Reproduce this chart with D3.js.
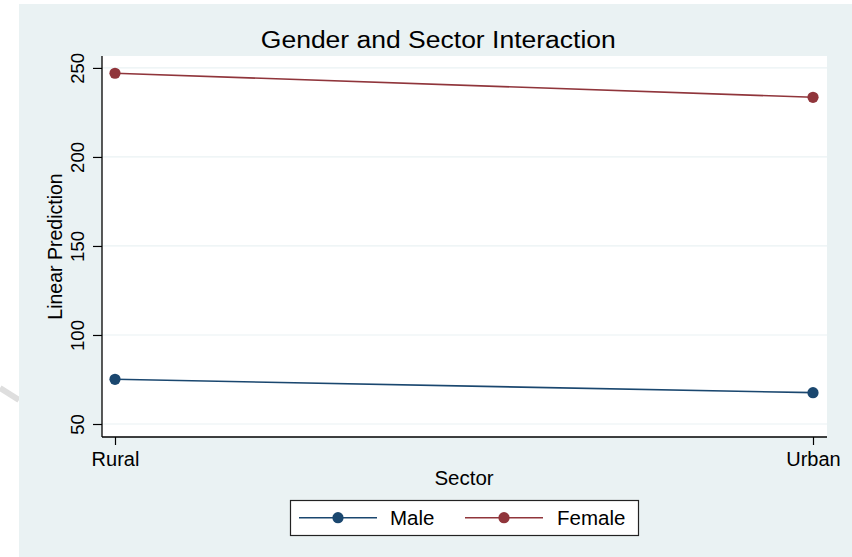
<!DOCTYPE html>
<html>
<head>
<meta charset="utf-8">
<script src="https://cdn.jsdelivr.net/npm/d3@7"></script>
<style>
  html, body { margin: 0; padding: 0; background: #ffffff; }
  svg { display: block; font-family: "Liberation Sans", Arial, Helvetica, sans-serif; }
</style>
</head>
<body>
<svg id="chart" width="852" height="557"></svg>
<script>
// Predicted values by sector for each gender
const sectors = ["Rural", "Urban"];
const seriesNames = ["Male", "Female"];
const maleValues = [75.1, 67.6];
const femaleValues = [247.0, 233.5];
const yTicks = [50, 100, 150, 200, 250];

const colors = { Male: "#1a476f", Female: "#90353b" };
const series = [
  { name: "Male", values: maleValues },
  { name: "Female", values: femaleValues }
];

const svg = d3.select("#chart");
const W = 852, H = 557;
const plot = { left: 102, right: 827, top: 56, bottom: 437 };

// outer graph region
svg.append("rect").attr("x", 0).attr("y", 0).attr("width", W).attr("height", H).attr("fill", "#ffffff");
svg.append("line")
  .attr("x1", 0).attr("y1", 388).attr("x2", 19).attr("y2", 400)
  .attr("stroke", "#dedede").attr("stroke-width", 6);
svg.append("rect").attr("x", 19).attr("y", 4).attr("width", W - 19).attr("height", H - 4).attr("fill", "#eaf2f3");

// plot region
svg.append("rect")
  .attr("x", plot.left).attr("y", plot.top)
  .attr("width", plot.right - plot.left).attr("height", plot.bottom - plot.top)
  .attr("fill", "#ffffff");

const y = d3.scaleLinear().domain([42.7, 256.7]).range([plot.bottom, plot.top]);
const x = d3.scalePoint().domain(sectors).range([115, 813]);

// horizontal grid
svg.append("g").selectAll("line").data(yTicks).join("line")
  .attr("x1", plot.left).attr("x2", plot.right)
  .attr("y1", d => y(d)).attr("y2", d => y(d))
  .attr("stroke", "#eaf2f3").attr("stroke-width", 1.2);

// y axis
const yAxis = svg.append("g")
  .attr("transform", `translate(${plot.left},0)`)
  .call(d3.axisLeft(y).tickValues(yTicks).tickSize(9).tickPadding(0).tickSizeOuter(0));
yAxis.select(".domain").attr("stroke", "#000").attr("stroke-width", 1.3)
  .attr("d", `M0,${plot.top}V${plot.bottom}`);
yAxis.selectAll(".tick line").attr("stroke", "#000").attr("stroke-width", 1.2);
yAxis.selectAll(".tick text")
  .attr("x", null).attr("dy", null)
  .attr("transform", "translate(-18.5,0) rotate(-90)")
  .attr("text-anchor", "middle")
  .attr("font-size", 18.5).attr("fill", "#000")
  .style("font-family", "'Liberation Sans', Arial, sans-serif");

// x axis
const xAxis = svg.append("g")
  .attr("transform", `translate(0,${plot.bottom})`)
  .call(d3.axisBottom(x).tickSize(8).tickSizeOuter(0));
xAxis.select(".domain").attr("stroke", "#000").attr("stroke-width", 1.3)
  .attr("d", `M${plot.left},0H${plot.right}`);
xAxis.selectAll(".tick line").attr("stroke", "#000").attr("stroke-width", 1.2);
xAxis.selectAll(".tick text")
  .attr("y", 28.7).attr("dy", null)
  .attr("font-size", 20).attr("fill", "#000")
  .style("font-family", "'Liberation Sans', Arial, sans-serif");

// series lines and markers
const line = d3.line().x((d, i) => x(sectors[i])).y(d => y(d));
const g = svg.append("g");
series.forEach(s => {
  g.append("path").attr("d", line(s.values))
    .attr("fill", "none").attr("stroke", colors[s.name]).attr("stroke-width", 1.6);
  g.selectAll(null).data(s.values).join("circle")
    .attr("cx", (d, i) => x(sectors[i])).attr("cy", d => y(d))
    .attr("r", 5.6).attr("fill", colors[s.name]);
});

// titles
svg.append("text").attr("x", 438.3).attr("y", 47.7).attr("text-anchor", "middle")
  .attr("font-size", 23.5).attr("fill", "#000")
  .attr("textLength", 355).attr("lengthAdjust", "spacingAndGlyphs")
  .text("Gender and Sector Interaction");
svg.append("text").attr("x", 464).attr("y", 485).attr("text-anchor", "middle")
  .attr("font-size", 20.5).attr("fill", "#000").text("Sector");
svg.append("text")
  .attr("transform", `translate(61.5,${(plot.top + plot.bottom) / 2}) rotate(-90)`)
  .attr("text-anchor", "middle").attr("font-size", 19.5).attr("fill", "#000")
  .text("Linear Prediction");

// legend
const lg = svg.append("g");
lg.append("rect").attr("x", 290.5).attr("y", 500.5).attr("width", 348).attr("height", 35)
  .attr("fill", "#ffffff").attr("stroke", "#222").attr("stroke-width", 1.2);
const legendItems = [
  { name: seriesNames[0], x0: 299, x1: 377, label: 390 },
  { name: seriesNames[1], x0: 465, x1: 543, label: 557 }
];
legendItems.forEach(it => {
  const ly = 517.7;
  lg.append("line").attr("x1", it.x0).attr("x2", it.x1).attr("y1", ly).attr("y2", ly)
    .attr("stroke", colors[it.name]).attr("stroke-width", 1.6);
  lg.append("circle").attr("cx", (it.x0 + it.x1) / 2).attr("cy", ly).attr("r", 5.6)
    .attr("fill", colors[it.name]);
  lg.append("text").attr("x", it.label).attr("y", 525).attr("font-size", 20.5)
    .attr("fill", "#000").text(it.name);
});
</script>
</body>
</html>
